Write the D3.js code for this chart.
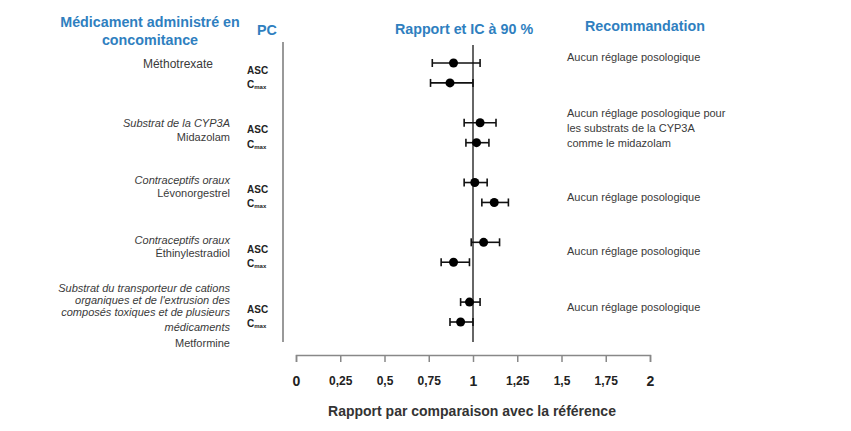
<!DOCTYPE html>
<html><head><meta charset="utf-8">
<script src="https://cdn.jsdelivr.net/npm/d3@7"></script>
<style>body{margin:0;background:#fff}svg{display:block;font-family:"Liberation Sans",Arial,sans-serif}</style>
</head><body><svg id="c" width="851" height="431"></svg>
<script>
// ---- data ----
const categories = [
  ["Méthotrexate"],
  ["Substrat de la CYP3A", "Midazolam"],
  ["Contraceptifs oraux", "Lévonorgestrel"],
  ["Contraceptifs oraux", "Éthinylestradiol"],
  ["Substrat du transporteur de cations", "organiques et de l'extrusion des", "composés toxiques et de plusieurs", "médicaments", "Metformine"]
];
const italicLines = [0, 1, 1, 1, 4];
const recommendations = [
  ["Aucun réglage posologique"],
  ["Aucun réglage posologique pour", "les substrats de la CYP3A", "comme le midazolam"],
  ["Aucun réglage posologique"],
  ["Aucun réglage posologique"],
  ["Aucun réglage posologique"]
];
const params = ["ASC", "Cmax"];
const ratio = [0.89, 0.87, 1.04, 1.02, 1.01, 1.12, 1.06, 0.89, 0.98, 0.93];
const ciLow = [0.77, 0.76, 0.95, 0.96, 0.95, 1.05, 0.99, 0.82, 0.93, 0.87];
const ciHigh = [1.04, 1.00, 1.13, 1.09, 1.08, 1.20, 1.15, 0.98, 1.04, 1.00];
const tickValues = [0, 0.25, 0.5, 0.75, 1, 1.25, 1.5, 1.75, 2];
const tickLabels = ["0", "0,25", "0,5", "0,75", "1", "1,25", "1,5", "1,75", "2"];

// ---- layout ----
const svg = d3.select("#c");
const x = d3.scaleLinear().domain([0, 2]).range([296, 650]);
const y = d3.scaleLinear().domain([0, 13]).range([63, 322]); // slot index: group*3 + param
const blue = "#2f7fbf";

// headers
const hdr = svg.append("g").attr("fill", blue).attr("font-weight", "bold").attr("font-size", 14.3).attr("text-anchor", "middle");
hdr.append("text").attr("x", 150).attr("y", 27).text("Médicament administré en");
hdr.append("text").attr("x", 150).attr("y", 45).text("concomitance");
hdr.append("text").attr("x", 267).attr("y", 35).text("PC");
hdr.append("text").attr("x", 464).attr("y", 34).text("Rapport et IC à 90 %");
hdr.append("text").attr("x", 645).attr("y", 31).text("Recommandation");

// left separator line
svg.append("line").attr("x1", 283).attr("x2", 283).attr("y1", 42).attr("y2", 342)
  .attr("stroke", "#777").attr("stroke-width", 1.5);

// reference line at 1
svg.append("line").attr("x1", x(1)).attr("x2", x(1)).attr("y1", 45).attr("y2", 342)
  .attr("stroke", "#333").attr("stroke-width", 1.5);

// category label line centres (layout)
const catCenters = [
  [64],
  [123, 137],
  [180, 193],
  [240, 253],
  [288, 300, 312, 327, 343]
];
const recCenters = [[57], [113, 128, 143], [197], [251], [307]];

categories.forEach((lines, gi) => {
  const t = svg.append("g").attr("text-anchor", "end").attr("fill", "#3a3a3a");
  lines.forEach((line, li) => {
    const isItalic = li < italicLines[gi];
    const single = lines.length === 1;
    t.append("text").attr("x", single ? 213 : 230).attr("y", catCenters[gi][li] + 4)
      .attr("font-size", single ? 12 : 11)
      .attr("font-style", isItalic ? "italic" : "normal")
      .text(line);
  });
  // param labels
  params.forEach((p, pi) => {
    const idx = gi * 3 + pi;
    const yy = y(idx) + (pi === 0 ? 10.5 : 5);
    const tx = svg.append("text").attr("x", 247).attr("y", yy).attr("font-weight", "bold").attr("fill", "#222").attr("font-size", 10);
    if (p === "ASC") { tx.text("ASC"); }
    else {
      tx.append("tspan").text("C");
      tx.append("tspan").attr("font-size", 6).attr("dy", 1).text("max");
    }
  });
  // recommendation
  recommendations[gi].forEach((line, li) => {
    svg.append("text").attr("x", 567).attr("y", recCenters[gi][li] + 4)
      .attr("font-size", 11).attr("fill", "#3a3a3a").text(line);
  });
});

// error bars and points
const rows = ratio.map((v, i) => ({v, lo: ciLow[i], hi: ciHigh[i], idx: Math.floor(i / 2) * 3 + (i % 2)}));
const eb = svg.append("g").attr("stroke", "#111").attr("stroke-width", 1.6);
rows.forEach(r => {
  const yy = y(r.idx);
  eb.append("line").attr("x1", x(r.lo)).attr("x2", x(r.hi)).attr("y1", yy).attr("y2", yy);
  eb.append("line").attr("x1", x(r.lo)).attr("x2", x(r.lo)).attr("y1", yy - 4).attr("y2", yy + 4);
  eb.append("line").attr("x1", x(r.hi)).attr("x2", x(r.hi)).attr("y1", yy - 4).attr("y2", yy + 4);
});
svg.append("g").selectAll("circle").data(rows).join("circle")
  .attr("cx", d => x(d.v)).attr("cy", d => y(d.idx)).attr("r", 4.5).attr("fill", "#000");

// x axis
const axis = d3.axisBottom(x).tickValues(tickValues).tickSize(7).tickSizeOuter(7).tickPadding(14)
  .tickFormat((d, i) => tickLabels[i]);
const ax = svg.append("g").attr("transform", "translate(0,355)").call(axis);
ax.select(".domain").attr("stroke", "#888").attr("stroke-width", 1.5);
ax.selectAll(".tick line").attr("stroke", "#888").attr("stroke-width", 1.5);
ax.selectAll(".tick text").attr("fill", "#222").attr("font-weight", "bold")
  .attr("font-family", "Liberation Sans, Arial, sans-serif")
  .attr("font-size", d => (d === 0 || d === 1 || d === 2) ? 14 : 12);

svg.append("text").attr("x", 472).attr("y", 416).attr("text-anchor", "middle")
  .attr("font-weight", "bold").attr("font-size", 14).attr("fill", "#333")
  .text("Rapport par comparaison avec la référence");
</script></body></html>
